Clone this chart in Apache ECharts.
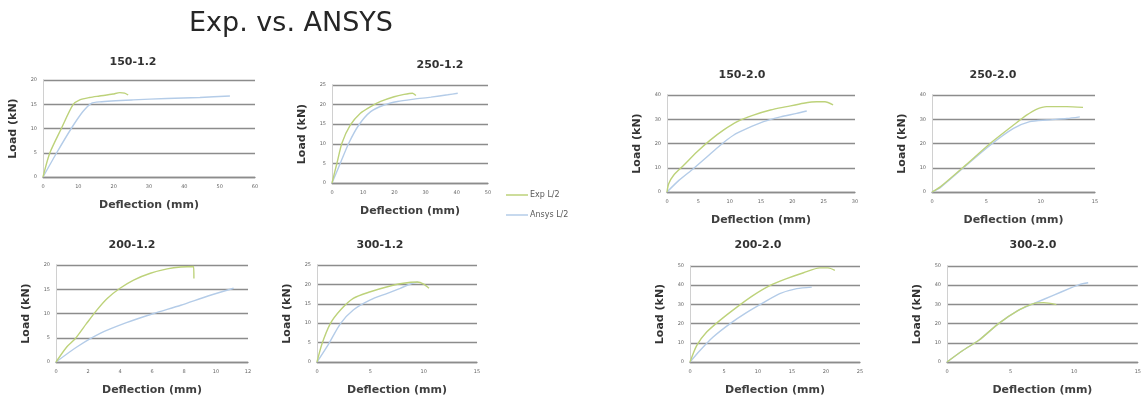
<!DOCTYPE html>
<html><head><meta charset="utf-8">
<script src="https://cdn.jsdelivr.net/npm/echarts@6/dist/echarts.min.js"></script>
<style>html,body{margin:0;padding:0;background:#fff}#c{width:1144px;height:399px}</style>
</head><body><div id="c"></div>
<script>
// ---- data (deflection mm, load kN) ----
const panelTitles = ['150-1.2','250-1.2','200-1.2','300-1.2','150-2.0','250-2.0','200-2.0','300-2.0'];
const xMax = [60,50,12,15,30,15,25,15];
const xStep = [10,10,2,5,5,5,5,5];
const yMax = [20,25,20,25,40,40,50,50];
const yStep = [5,5,5,5,10,10,10,10];

const exp_150_12 = [[0,0],[1.9,4.9],[5.2,10],[8.5,14.9],[10.4,15.9],[13.2,16.4],[16,16.7],[19.8,17.1],[21.7,17.4],[23.1,17.3],[24.1,16.9]];
const ans_150_12 = [[0,0],[3.8,4.9],[8,10],[11.3,13.5],[13.7,15.2],[16,15.5],[25.5,15.9],[35,16.2],[44.4,16.4],[52.9,16.7]];
const exp_250_12 = [[0,0],[1.6,5.1],[3.2,10.2],[5.9,14.8],[9.1,17.8],[12.4,19.5],[15.6,20.8],[19.9,22],[23.1,22.6],[25.8,22.9],[26.9,22.3]];
const ans_250_12 = [[0,0],[2.7,5.1],[5.4,10.2],[8.6,14.8],[12.4,18.2],[16.7,19.9],[21,20.8],[26.3,21.4],[31.7,21.9],[37.1,22.5],[40.3,22.9]];
const exp_200_12 = [[0,0],[0.67,3.1],[1.2,4.8],[1.9,7.9],[2.55,10.7],[3.2,13.1],[4,15.2],[4.85,16.9],[5.9,18.3],[6.95,19.2],[7.8,19.6],[8.6,19.7],[8.62,17.2]];
const ans_200_12 = [[0,0],[1.3,3.1],[2.76,5.9],[4.4,8.1],[6.1,10],[7.8,11.7],[9.5,13.6],[11.1,15.2]];
const exp_300_12 = [[0,0],[0.47,4.7],[1.25,9.9],[2.2,13.4],[3.4,16.4],[5,18.1],[6.6,19.4],[8.1,20.3],[9.4,20.6],[10,20.1],[10.5,19]];
const ans_300_12 = [[0,0],[1.1,4.7],[2.2,9.9],[3.4,13.4],[5,16],[6.6,17.7],[7.8,19],[8.75,20.1],[9.5,20.6]];
const exp_150_20 = [[0,0],[0.27,3.4],[1.06,6.9],[2.66,11],[4.8,16.6],[6.9,21.4],[9,25.5],[11.2,29],[13.8,31.7],[16.5,33.8],[19.1,35.2],[21.8,36.6],[23.9,37.2],[25.2,37.2],[26.5,35.9]];
const ans_150_20 = [[0,0],[1.9,4.8],[4.25,9.7],[6.4,14.5],[8.5,19.3],[10.6,23.4],[12.8,26.2],[15.4,29],[18.1,31],[20.7,32.4],[22.3,33.4]];
const exp_250_20 = [[0,0],[0.76,2.1],[2.9,10.3],[5.35,20],[7.5,27.6],[8.7,31.7],[9.6,34.1],[10.55,35.2],[12.4,35.2],[13.9,34.9]];
const ans_250_20 = [[0,0],[0.76,1.8],[2.9,10],[5.35,19.3],[7.5,26.2],[9,29],[10.55,29.7],[12.4,30.3],[13.6,31]];
const exp_200_20 = [[0,0],[1,8.7],[2.45,15.6],[4.4,21.7],[6.9,28.6],[9.3,34.7],[11.8,39.9],[14.2,43.4],[16.7,46.5],[19.1,49],[20.3,49],[21.3,47.7]];
const ans_200_20 = [[0,0],[1.5,6.1],[3.4,13],[5.9,20],[8.3,25.7],[10.8,30.9],[13.2,35.6],[15.7,38.2],[17.9,39]];
const exp_300_20 = [[0,0],[1.27,6.1],[2.5,11.3],[4.05,20],[5.6,26.9],[6.8,30.4],[7.6,30.9],[8.6,29.9]];
const ans_300_20 = [[0,0],[1.27,6.1],[2.5,11.3],[4.05,20],[5.6,26.9],[6.8,30.4],[8.35,34.7],[9.6,38.2],[10.4,40.3],[11.1,41.3]];

const expSets = [exp_150_12, exp_250_12, exp_200_12, exp_300_12, exp_150_20, exp_250_20, exp_200_20, exp_300_20];
const ansSets = [ans_150_12, ans_250_12, ans_200_12, ans_300_12, ans_150_20, ans_250_20, ans_200_20, ans_300_20];

// ---- layout ----
const grids = [
  {left:43, top:80, width:212, height:97},
  {left:332, top:85, width:156, height:98},
  {left:56, top:265, width:192, height:97},
  {left:317, top:265, width:160, height:97},
  {left:667, top:95, width:188, height:97},
  {left:932, top:95, width:163, height:97},
  {left:690, top:266, width:170, height:96},
  {left:947, top:266, width:197, height:96}
];
const titlePos = [[133,57],[440,60],[132,240],[380,240],[742,70],[993,70],[758,240],[1033,240]];

const EXP_COLOR = '#bdd27a';
const ANS_COLOR = '#b4cce8';
const FONT = 'DejaVu Sans';

const titles = [{
  text: 'Exp. vs. ANSYS', left: 291, top: 10, textAlign: 'center', padding: 0,
  textStyle: {fontFamily: FONT, fontSize: 27, fontWeight: 'normal', color: '#262626'}
}];
panelTitles.forEach((t, i) => titles.push({
  text: t, left: titlePos[i][0], top: titlePos[i][1], textAlign: 'center', padding: 0,
  textStyle: {fontFamily: FONT, fontSize: 11, fontWeight: 'bold', color: '#333'}
}));

const xAxes = [], yAxes = [], series = [];
for (let i = 0; i < 8; i++) {
  xAxes.push({
    type: 'value', gridIndex: i, min: 0, max: xMax[i], interval: xStep[i],
    name: 'Deflection (mm)', nameLocation: 'middle', nameGap: 23,
    nameTextStyle: {fontFamily: FONT, fontSize: 11, fontWeight: 'bold', color: '#404040'},
    axisLine: {show: true, lineStyle: {color: '#8c8c8c', width: 1.3}},
    axisTick: {show: false},
    splitLine: {show: false},
    axisLabel: {fontFamily: FONT, fontSize: 5, color: '#666', margin: 7}
  });
  yAxes.push({
    type: 'value', gridIndex: i, min: 0, max: yMax[i], interval: yStep[i],
    name: 'Load (kN)', nameLocation: 'middle', nameGap: 24,
    nameTextStyle: {fontFamily: FONT, fontSize: 11, fontWeight: 'bold', color: '#333'},
    axisLine: {show: true, lineStyle: {color: '#d0d0d0', width: 1}},
    axisTick: {show: false},
    splitLine: {show: true, lineStyle: {color: '#8c8c8c', width: 1.3}},
    axisLabel: {fontFamily: FONT, fontSize: 5, color: '#666', margin: 6}
  });
  series.push({
    name: 'Ansys L/2', type: 'line', xAxisIndex: i, yAxisIndex: i, data: ansSets[i],
    showSymbol: false, symbol: 'none', smooth: 0.25, z: 2,
    lineStyle: {color: ANS_COLOR, width: 1.4}, itemStyle: {color: ANS_COLOR}
  });
  series.push({
    name: 'Exp L/2', type: 'line', xAxisIndex: i, yAxisIndex: i, data: expSets[i],
    showSymbol: false, symbol: 'none', smooth: 0.25, z: 3,
    lineStyle: {color: EXP_COLOR, width: 1.4}, itemStyle: {color: EXP_COLOR}
  });
}

const chart = echarts.init(document.getElementById('c'), null, {renderer: 'canvas'});
chart.setOption({
  animation: false,
  backgroundColor: '#ffffff',
  title: titles,
  grid: grids,
  xAxis: xAxes,
  yAxis: yAxes,
  legend: {
    data: ['Exp L/2', 'Ansys L/2'], orient: 'vertical', left: 506, top: 191,
    itemWidth: 22, itemHeight: 1.5, itemGap: 12, icon: 'rect', padding: 0,
    textStyle: {fontFamily: FONT, fontSize: 8, color: '#595959', padding: [0,0,0,-3]}
  },
  series: series
});
</script></body></html>
